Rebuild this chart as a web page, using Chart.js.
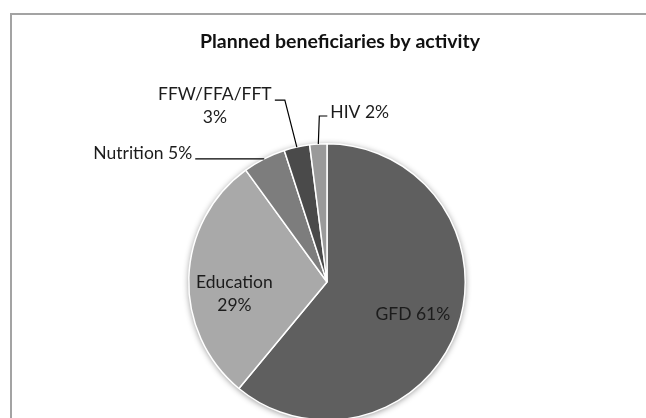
<!DOCTYPE html>
<html>
<head>
<meta charset="utf-8">
<script src="https://cdn.jsdelivr.net/npm/chart.js@4.4.1/dist/chart.umd.min.js"></script>
<style>
  html, body { margin: 0; padding: 0; background: #ffffff; overflow: hidden; width: 646px; height: 418px; }
  #frame { position: absolute; left: 10px; top: 13px; width: 700px; height: 500px; border: 2px solid #a3a3a3; box-sizing: border-box; }
  #wrap { position: absolute; left: 0; top: 0; width: 680px; height: 440px; }
</style>
</head>
<body>
<div id="frame"></div>
<div id="wrap"><canvas id="c" width="680" height="440"></canvas></div>
<script>
// ---- data ----
const chartTitle = 'Planned beneficiaries by activity';
const categories = ['GFD', 'Education', 'Nutrition', 'FFW/FFA/FFT', 'HIV'];
const shares = [61, 29, 5, 3, 2];
const sliceColors = ['#5f5f5f', '#a9a9a9', '#7d7d7d', '#4a4a4a', '#9a9a9a'];

// label layout (styles / offsets only)
const labelFont = '17.5px Lato';
const titleFont = 'bold 19.5px Lato';
const labelColor = '#1c1c1c';
const labelLayout = [
  { inside: true, lines: (c, p) => [c + ' ' + p + '%'], dist: 0.66, dy: 1 },
  { inside: true, lines: (c, p) => [c, p + '%'], dist: 0.67, dy: 15 },
  { inside: false, lines: (c, p) => [c + ' ' + p + '%'], path: [[-69, 0]], text: { dx: -72, dy: -5.5, align: 'right' } },
  { inside: false, lines: (c, p) => [c, p + '%'], path: [[-12, -47], [-22, -47]], text: { dx: -82, dy: -53, align: 'center' } },
  { inside: false, lines: (c, p) => [c + ' ' + p + '%'], path: [[1, -28], [9, -28]], text: { dx: 12, dy: -31.5, align: 'left' } }
];
const lineGap = 23;

const shadowPlugin = {
  id: 'pieShadow',
  beforeDatasetsDraw(chart) {
    const arc = chart.getDatasetMeta(0).data[0];
    if (!arc) return;
    const ctx = chart.ctx;
    ctx.save();
    ctx.shadowColor = 'rgba(0,0,0,0.45)';
    ctx.shadowBlur = 6;
    ctx.shadowOffsetX = 0;
    ctx.shadowOffsetY = 1;
    ctx.fillStyle = '#777';
    ctx.beginPath();
    ctx.arc(arc.x, arc.y, arc.outerRadius, 0, Math.PI * 2);
    ctx.fill();
    ctx.restore();
  }
};

const labelPlugin = {
  id: 'pieLabels',
  afterDatasetsDraw(chart) {
    const ctx = chart.ctx;
    const meta = chart.getDatasetMeta(0);
    ctx.save();
    // title
    ctx.fillStyle = '#111111';
    ctx.font = titleFont;
    ctx.textAlign = 'center';
    ctx.textBaseline = 'middle';
    ctx.fillText(chartTitle, 340, 42);

    ctx.font = labelFont;
    ctx.fillStyle = labelColor;
    ctx.strokeStyle = '#000000';
    ctx.lineWidth = 1.2;
    meta.data.forEach((arc, i) => {
      const L = labelLayout[i];
      const mid = (arc.startAngle + arc.endAngle) / 2;
      const lines = L.lines(categories[i], shares[i]);
      if (L.inside) {
        const r = arc.outerRadius * L.dist;
        const cx = arc.x + Math.cos(mid) * r;
        const cy = arc.y + Math.sin(mid) * r + L.dy;
        ctx.textAlign = 'center';
        ctx.textBaseline = 'middle';
        const y0 = cy - (lines.length - 1) * lineGap / 2;
        lines.forEach((t, k) => ctx.fillText(t, cx, y0 + k * lineGap));
      } else {
        const px = arc.x + Math.cos(mid) * arc.outerRadius;
        const py = arc.y + Math.sin(mid) * arc.outerRadius;
        ctx.beginPath();
        ctx.moveTo(px, py);
        L.path.forEach(([dx, dy]) => ctx.lineTo(px + dx, py + dy));
        ctx.stroke();
        ctx.textAlign = L.text.align;
        ctx.textBaseline = 'middle';
        lines.forEach((t, k) => ctx.fillText(t, px + L.text.dx, py + L.text.dy + k * lineGap));
      }
    });
    ctx.restore();
  }
};

new Chart(document.getElementById('c'), {
  type: 'pie',
  data: {
    labels: categories,
    datasets: [{
      data: shares,
      backgroundColor: sliceColors,
      borderColor: '#ffffff',
      borderWidth: 1.5,
      hoverOffset: 0
    }]
  },
  options: {
    responsive: false,
    animation: false,
    events: [],
    layout: { padding: { left: 188, right: 214, top: 143, bottom: 19 } },
    plugins: {
      legend: { display: false },
      title: { display: false },
      tooltip: { enabled: false }
    }
  },
  plugins: [shadowPlugin, labelPlugin]
});
</script>
</body>
</html>
